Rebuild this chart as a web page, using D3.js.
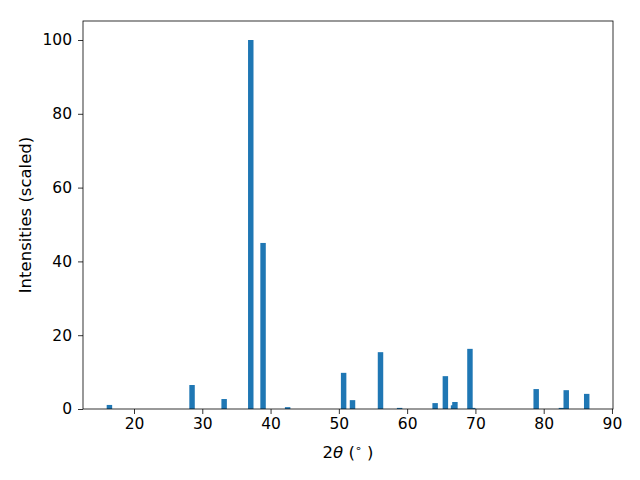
<!DOCTYPE html>
<html><head><meta charset="utf-8">
<script src="https://cdn.jsdelivr.net/npm/d3@7"></script>
<style>body{margin:0;background:#fff}svg{display:block}text{font-family:"DejaVu Sans",sans-serif}</style>
</head><body>
<script>
const twoTheta = [16.4, 28.5, 33.2, 37.1, 38.9, 42.5, 50.7, 52.0, 56.1, 58.9, 64.1, 65.6, 66.8, 67.0, 69.2, 69.6, 78.9, 82.6, 83.3, 86.3];
const intensity = [1.1, 6.5, 2.7, 100, 45, 0.5, 9.8, 2.4, 15.4, 0.3, 1.6, 8.9, 1.0, 1.9, 16.3, 0.3, 5.4, 0.3, 5.1, 4.1];
const xTicks = [20, 30, 40, 50, 60, 70, 80, 90];
const yTicks = [0, 20, 40, 60, 80, 100];
const barWidth = 0.8;

const W = 640, H = 480;
const m = {l: 83, r: 613, t: 21, b: 409};
const svg = d3.select("body").append("svg").attr("width", W).attr("height", H);
const x = d3.scaleLinear().domain([12.53, 90.15]).range([m.l, m.r]);
const y = d3.scaleLinear().domain([0, 105.15]).range([m.b, m.t]);

svg.append("g").selectAll("rect").data(twoTheta).join("rect")
  .attr("x", (d) => x(d - barWidth / 2))
  .attr("width", x(barWidth) - x(0))
  .attr("y", (d, i) => y(intensity[i]))
  .attr("height", (d, i) => y(0) - y(intensity[i]))
  .attr("fill", "#1f77b4");

const xa = svg.append("g").attr("transform", `translate(0,${m.b})`)
  .call(d3.axisBottom(x).tickValues(xTicks).tickSize(5).tickPadding(4).tickFormat(d3.format("d")));
const ya = svg.append("g").attr("transform", `translate(${m.l},0)`)
  .call(d3.axisLeft(y).tickValues(yTicks).tickSize(5).tickPadding(6).tickFormat(d3.format("d")));
[xa, ya].forEach(a => {
  a.select(".domain").remove();
  a.selectAll("text").attr("font-size", 15.5).attr("fill", "#000").attr("font-family", "DejaVu Sans");
  a.selectAll("line").attr("stroke", "#000").attr("stroke-width", 0.8);
});

svg.append("rect").attr("x", m.l).attr("y", m.t).attr("width", m.r - m.l).attr("height", m.b - m.t)
  .attr("fill", "none").attr("stroke", "#000").attr("stroke-width", 0.8);

const xl = svg.append("text").attr("x", (m.l + m.r) / 2).attr("y", 458).attr("text-anchor", "middle")
  .attr("font-size", 16.5).attr("fill", "#000");
xl.append("tspan").text("2");
xl.append("tspan").attr("font-style", "italic").text("θ");
xl.append("tspan").text(" (");
xl.append("tspan").attr("font-size", 11).attr("dy", -6).text("∘");
xl.append("tspan").attr("dy", 6).text(" )");

svg.append("text").attr("transform", `translate(31,${(m.t + m.b) / 2}) rotate(-90)`)
  .attr("text-anchor", "middle").attr("font-size", 16.5).attr("fill", "#000")
  .text("Intensities (scaled)");
</script>
</body></html>
